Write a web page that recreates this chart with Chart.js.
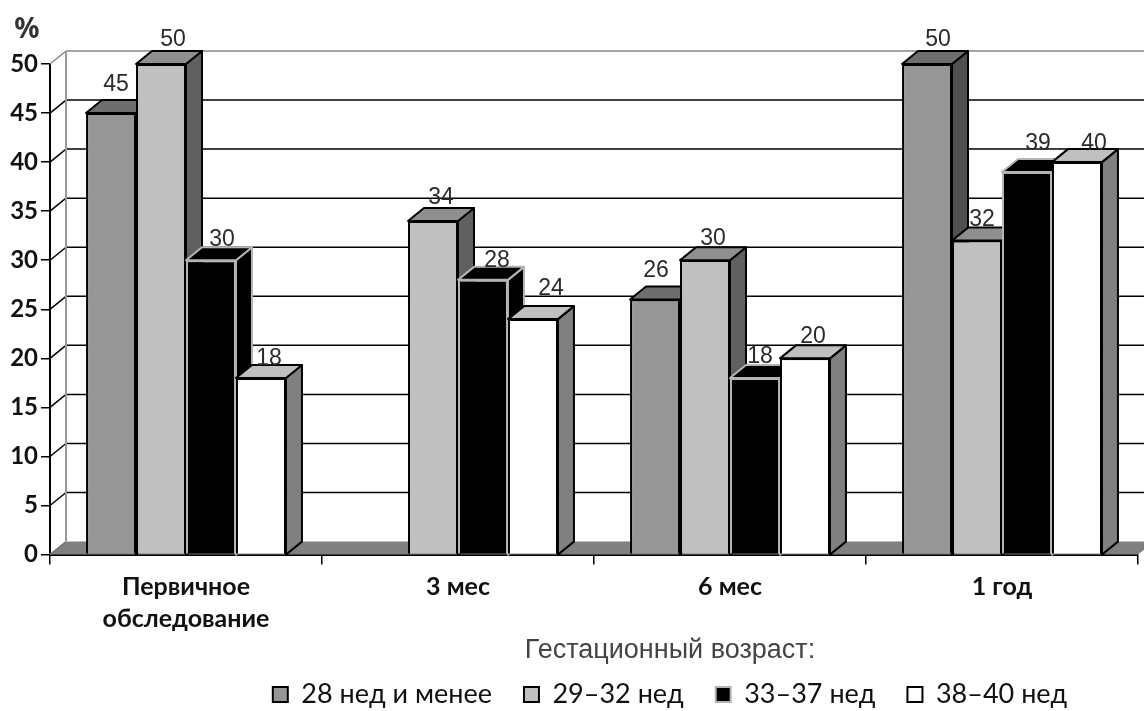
<!DOCTYPE html>
<html>
<head>
<meta charset="utf-8">
<script src="https://cdn.jsdelivr.net/npm/chart.js@4/dist/chart.umd.min.js"></script>
<style>
html, body { margin: 0; padding: 0; background: #fff; }
canvas { display: block; }
</style>
</head>
<body>
<canvas id="chart" width="1144" height="711"></canvas>
<script>
var categories = [['Первичное', 'обследование'], '3 мес', '6 мес', '1 год'];
var seriesNames = ['28 нед и менее', '29–32 нед', '33–37 нед', '38–40 нед'];
var weeks28 = [45, null, 26, 50];
var weeks29 = [50, 34, 30, 32];
var weeks33 = [30, 28, 18, 39];
var weeks38 = [18, 24, 20, 40];

// depth of the fake 3d box, px
var depthX = 16;
var depthY = 13;

var frontColors = ['#969696', '#c0c0c0', '#000000', '#ffffff'];
var topColors = ['#6e6e6e', '#8f8f8f', '#000000', '#c0c0c0'];
var sideColors = ['#505050', '#606060', '#000000', '#808080'];
var edgeColors = ['#000000', '#000000', '#b4b4b4', '#000000'];

// where excel happened to put each value label, relative to the bar top
var labelNudge = [
  [[5, -28], null, [1, -29], [11, -24]],
  [[12, -24], [8, -23], [8, -22], [5, -21]],
  [[11, -21], [14, -19], [5, -21], [11, -28]],
  [[8, -19], [18, -30], [8, -22], [17, -18]]
];

function poly(ctx, pts, fill, stroke, lw) {
  ctx.beginPath();
  ctx.moveTo(pts[0][0], pts[0][1]);
  for (var i = 1; i < pts.length; i++) ctx.lineTo(pts[i][0], pts[i][1]);
  ctx.closePath();
  if (fill) { ctx.fillStyle = fill; ctx.fill(); }
  if (stroke) { ctx.strokeStyle = stroke; ctx.lineWidth = lw; ctx.stroke(); }
}

function line(ctx, x1, y1, x2, y2, color, lw) {
  ctx.beginPath();
  ctx.moveTo(x1, y1);
  ctx.lineTo(x2, y2);
  ctx.strokeStyle = color;
  ctx.lineWidth = lw;
  ctx.stroke();
}

var wallsPlugin = {
  id: 'walls',
  beforeDatasetsDraw: function(chart) {
    var ctx = chart.ctx;
    var area = chart.chartArea;
    var y = chart.scales.y;
    var x0 = area.left;
    var base = y.getPixelForValue(0);
    ctx.save();
    // floor
    poly(ctx, [[x0, base], [area.right, base], [area.right + depthX, base - depthY], [x0 + depthX, base - depthY]], '#808080');
    line(ctx, x0, base, x0 + depthX, base - depthY, '#777', 1.5);
    // back wall grid
    y.ticks.forEach(function(t) {
      var py = y.getPixelForValue(t.value);
      var col = t.value === 50 ? '#888888' : '#000000';
      if (t.value > 0) {
        line(ctx, x0 + depthX, py - depthY, chart.width, py - depthY, col, 1.5);
        line(ctx, x0, py, x0 + depthX, py - depthY, col, 1.5);
      }
    });
    line(ctx, x0 + depthX, area.top - depthY, x0 + depthX, base - depthY, '#999999', 2);
    ctx.restore();
  },
  // datasets are painted by afterDatasetsDraw instead, left to right, so the
  // nearer bar covers the side of the one before it
  beforeDatasetDraw: function() {
    return false;
  },
  afterDatasetsDraw: function(chart) {
    var ctx = chart.ctx;
    var base = chart.scales.y.getPixelForValue(0);
    ctx.save();
    ctx.lineJoin = 'round';
    chart.data.datasets.forEach(function(ds, s) {
      var meta = chart.getDatasetMeta(s);
      meta.controller.draw();
      meta.data.forEach(function(bar, i) {
        if (ds.data[i] === null) return;
        var l = bar.x - bar.width / 2;
        var r = bar.x + bar.width / 2;
        var t = bar.y;
        poly(ctx, [[r, t], [r + depthX, t - depthY], [r + depthX, base - depthY], [r, base]], sideColors[s], edgeColors[s], 2);
        poly(ctx, [[l, t], [l + depthX, t - depthY], [r + depthX, t - depthY], [r, t]], topColors[s], edgeColors[s], 2);
      });
    });
    ctx.font = '23px "Liberation Sans"';
    ctx.fillStyle = '#2b2b2b';
    ctx.textAlign = 'center';
    ctx.textBaseline = 'middle';
    chart.data.datasets.forEach(function(ds, s) {
      chart.getDatasetMeta(s).data.forEach(function(bar, i) {
        var n = labelNudge[s][i];
        if (ds.data[i] === null) return;
        ctx.fillText(String(ds.data[i]), bar.x + n[0], bar.y + n[1]);
      });
    });
    ctx.font = 'bold 28px "Noto Sans"';
    ctx.fillStyle = '#333333';
    ctx.fillText('%', 27, 30);
    ctx.restore();
  },
  afterLayout: function(chart) {
    // the legend sits right of centre and lower than chart.js wants it
    chart.legend.left += 202;
    chart.legend.top += 7;
    // tick labels get clipped to the scale box, the two line label needs more room
    chart.scales.x.bottom += 20;
  }
};

var allSeries = [weeks28, weeks29, weeks33, weeks38];
var datasets = [];
for (var s = 0; s < allSeries.length; s++) {
  datasets.push({
    label: seriesNames[s],
    data: allSeries[s],
    backgroundColor: frontColors[s],
    borderColor: edgeColors[s],
    borderWidth: 2,
    clip: false
  });
}

new Chart(document.getElementById('chart').getContext('2d'), {
  type: 'bar',
  data: { labels: categories, datasets: datasets },
  plugins: [wallsPlugin],
  options: {
    responsive: false,
    animation: false,
    categoryPercentage: 0.735,
    barPercentage: 1,
    layout: { padding: { top: 64, right: 6, left: 0, bottom: 0 } },
    plugins: {
      tooltip: { enabled: false },
      legend: {
        position: 'bottom',
        title: {
          display: true,
          text: 'Гестационный возраст:',
          color: '#444444',
          font: { family: '"Liberation Sans"', size: 27 },
          padding: { top: 0, bottom: -20 }
        },
        labels: {
          color: '#111111',
          font: { family: 'Lato', size: 27 },
          boxWidth: 15,
          boxHeight: 15,
          padding: 32
        }
      }
    },
    scales: {
      x: {
        grid: { drawOnChartArea: false, color: '#000000', lineWidth: 1.5, tickLength: 10 },
        border: { color: '#000000', width: 2 },
        ticks: {
          color: '#111111',
          maxRotation: 0,
          padding: 6,
          font: { family: 'Lato', size: 25, weight: 'bold', lineHeight: 1.28 }
        },
        afterFit: function(scale) { scale.height = 75; }
      },
      y: {
        min: 0,
        max: 50,
        grid: { drawOnChartArea: false, color: '#000000', lineWidth: 1.5, tickLength: 9 },
        border: { color: '#000000', width: 2 },
        ticks: {
          stepSize: 5,
          color: '#111111',
          padding: 3,
          font: { family: 'Lato', size: 24, weight: 'bold' }
        },
        afterFit: function(scale) { scale.width = 50; }
      }
    }
  }
});
</script>
</body>
</html>
